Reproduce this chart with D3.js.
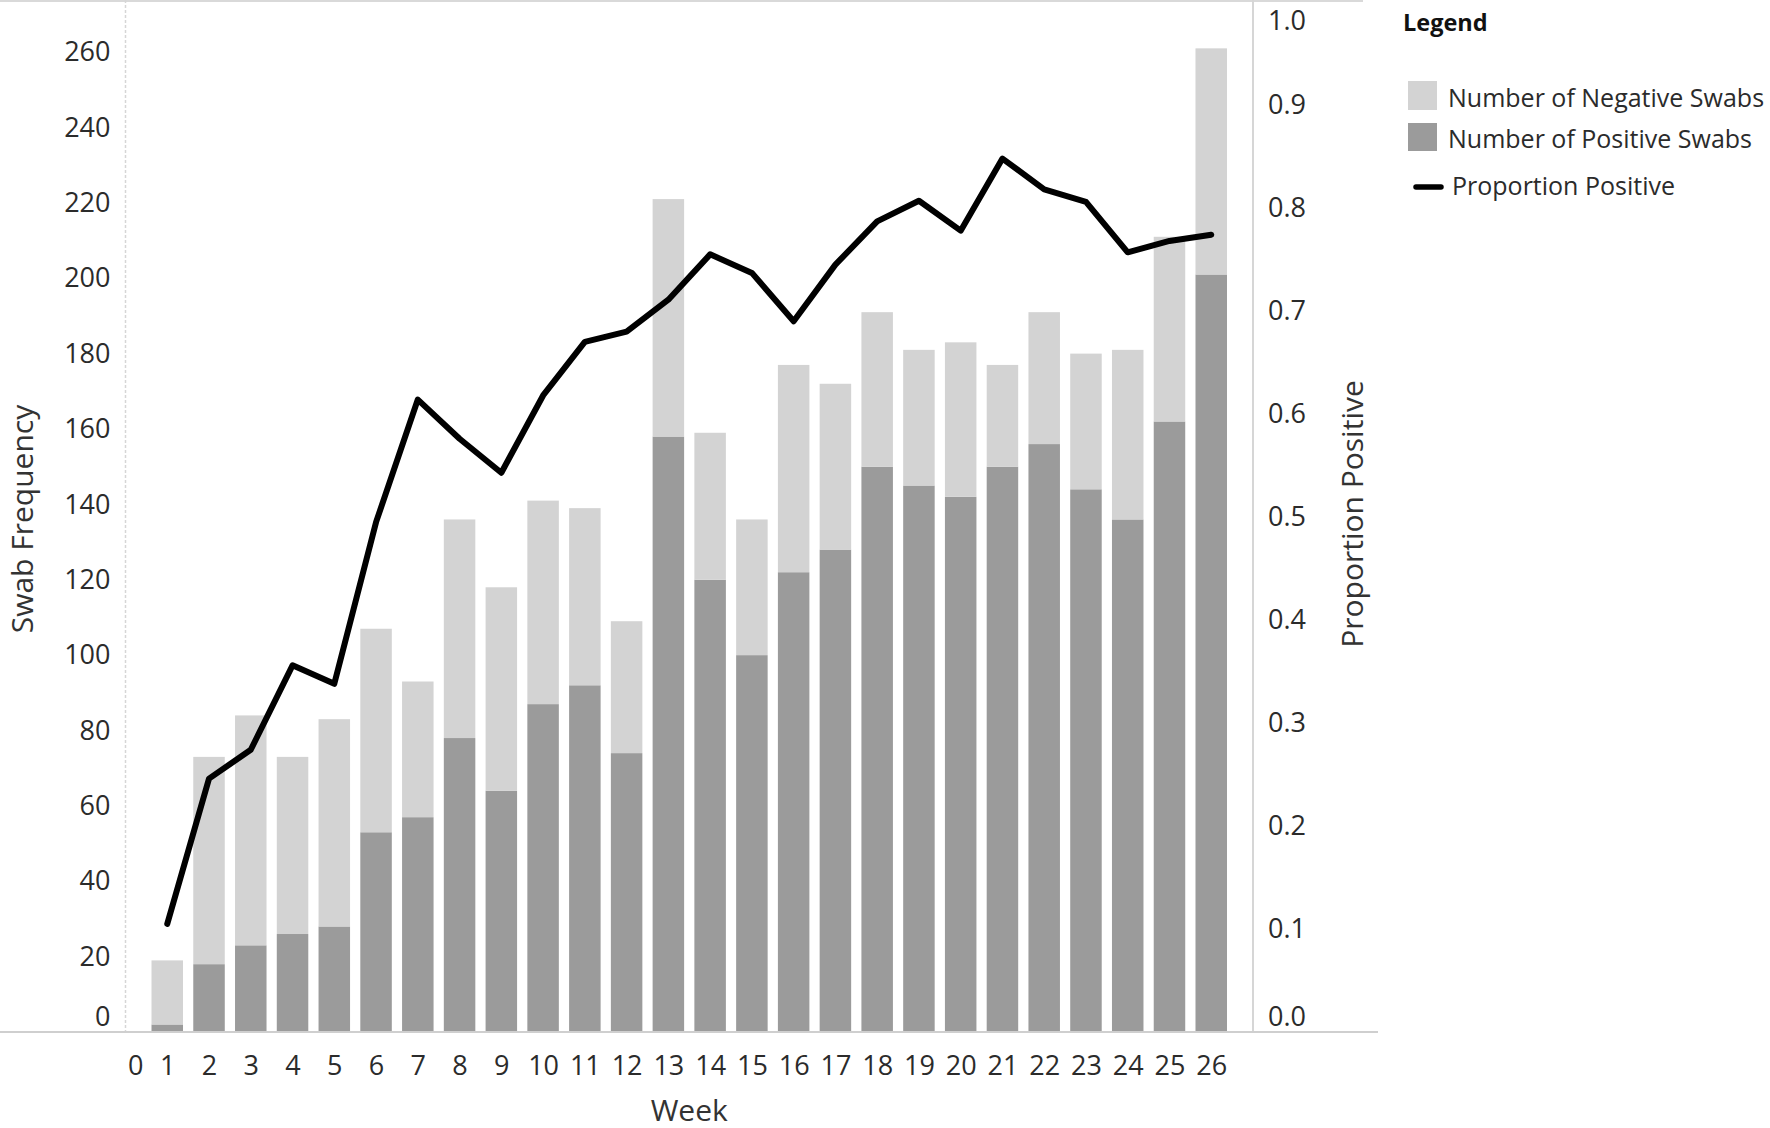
<!DOCTYPE html>
<html>
<head>
<meta charset="utf-8">
<script src="https://cdn.jsdelivr.net/npm/d3@7"></script>
<style>
  body { margin: 0; background: #fff; }
  text { font-family: "Open Sans", "Noto Sans", sans-serif; }
</style>
</head>
<body>
<svg id="chart" width="1770" height="1128"></svg>
<script>
// values
var weeks = d3.range(1, 27);
var positive = [2, 18, 23, 26, 28, 53, 57, 78, 64, 87, 92, 74, 158, 120, 100, 122, 128, 150, 145, 142, 150, 156, 144, 136, 162, 201];
var negative = [17, 55, 61, 47, 55, 54, 36, 58, 54, 54, 47, 35, 63, 39, 36, 55, 44, 41, 36, 41, 27, 35, 36, 45, 49, 60];
var proportion = [0.105, 0.246, 0.274, 0.356, 0.338, 0.495, 0.614, 0.576, 0.543, 0.618, 0.670, 0.680, 0.711, 0.755, 0.737, 0.690, 0.745, 0.787, 0.807, 0.778, 0.848, 0.818, 0.806, 0.757, 0.768, 0.774];
var leftTicks = d3.range(0, 261, 20);
var rightTicks = [0, 0.1, 0.2, 0.3, 0.4, 0.5, 0.6, 0.7, 0.8, 0.9, 1.0];
var weekTicks = d3.range(0, 27);
var legendItems = ["Number of Negative Swabs", "Number of Positive Swabs", "Proportion Positive"];

var colNeg = "#d3d3d3", colPos = "#9b9b9b";

var svg = d3.select("#chart");
var plotLeft = 125.5, plotRight = 1253, plotTop = 2, plotBottom = 1032;

var x = d3.scaleLinear().domain([0, 27]).range([plotLeft, plotRight]);
var y = d3.scaleLinear().domain([0, 273.3]).range([plotBottom, plotTop]);
var y2 = d3.scaleLinear().domain([0, 1]).range([plotBottom, plotTop]);
var barW = 31.5;

// frame lines
svg.append("line").attr("x1", 0).attr("x2", 1363).attr("y1", 1).attr("y2", 1)
  .attr("stroke", "#d9d9d9").attr("stroke-width", 2);
svg.append("line").attr("x1", plotLeft).attr("x2", plotLeft).attr("y1", 0).attr("y2", plotBottom)
  .attr("stroke", "#d6d6d6").attr("stroke-width", 1.5).attr("stroke-dasharray", "3,2");
svg.append("line").attr("x1", plotRight).attr("x2", plotRight).attr("y1", 0).attr("y2", plotBottom)
  .attr("stroke", "#d6d6d6").attr("stroke-width", 2);

// stacked bars
var bars = svg.append("g");
bars.selectAll("rect.pos").data(weeks).enter().append("rect")
  .attr("class", "pos")
  .attr("x", function(d) { return x(d) - barW / 2; })
  .attr("y", function(d, i) { return y(positive[i]); })
  .attr("width", barW)
  .attr("height", function(d, i) { return y(0) - y(positive[i]); })
  .attr("fill", colPos);
bars.selectAll("rect.neg").data(weeks).enter().append("rect")
  .attr("class", "neg")
  .attr("x", function(d) { return x(d) - barW / 2; })
  .attr("y", function(d, i) { return y(positive[i] + negative[i]); })
  .attr("width", barW)
  .attr("height", function(d, i) { return y(positive[i]) - y(positive[i] + negative[i]); })
  .attr("fill", colNeg);

// baseline
svg.append("line").attr("x1", 0).attr("x2", 1378).attr("y1", plotBottom).attr("y2", plotBottom)
  .attr("stroke", "#cfcfcf").attr("stroke-width", 2);

// proportion line
var line = d3.line()
  .x(function(d) { return x(d); })
  .y(function(d, i) { return y2(proportion[i]); });
svg.append("path").datum(weeks)
  .attr("d", line)
  .attr("fill", "none")
  .attr("stroke", "#000")
  .attr("stroke-width", 6)
  .attr("stroke-linejoin", "round")
  .attr("stroke-linecap", "round");

// axes
var axL = svg.append("g").attr("transform", "translate(" + plotLeft + ",0)")
  .call(d3.axisLeft(y).tickValues(leftTicks).tickSize(0).tickPadding(15));
var axR = svg.append("g").attr("transform", "translate(" + plotRight + ",0)")
  .call(d3.axisRight(y2).tickValues(rightTicks).tickSize(0).tickPadding(15).tickFormat(d3.format(".1f")));
var axB = svg.append("g").attr("transform", "translate(0," + plotBottom + ")")
  .call(d3.axisBottom(x).tickValues(weekTicks).tickSize(0).tickPadding(24).tickFormat(d3.format("d")));

[axL, axR, axB].forEach(function(a) {
  a.select(".domain").remove();
  a.selectAll("text").attr("font-size", 27).attr("fill", "#2b2b2b")
    .style("font-family", '"Open Sans", "Noto Sans", sans-serif');
});
// edge labels pushed inward, as in the original
axL.selectAll(".tick").filter(function(d) { return d === 0; }).select("text").attr("dy", "-0.25em");
axR.selectAll(".tick").filter(function(d) { return d === 0; }).select("text").attr("dy", "-0.25em");
axR.selectAll(".tick").filter(function(d) { return d === 1; }).select("text").attr("dy", "1.02em");
axB.selectAll(".tick").filter(function(d) { return d === 0; }).select("text").attr("dx", "0.36em");

// axis titles
svg.append("text").attr("transform", "translate(22,519) rotate(-90)")
  .attr("text-anchor", "middle").attr("dy", "0.35em")
  .attr("font-size", 30).attr("fill", "#333").text("Swab Frequency");
svg.append("text").attr("transform", "translate(1352,514) rotate(-90)")
  .attr("text-anchor", "middle").attr("dy", "0.35em")
  .attr("font-size", 30).attr("fill", "#333").text("Proportion Positive");
svg.append("text").attr("x", (plotLeft + plotRight) / 2).attr("y", 1110)
  .attr("text-anchor", "middle").attr("dy", "0.35em")
  .attr("font-size", 30).attr("fill", "#333").text("Week");

// legend
var lg = svg.append("g");
lg.append("text").attr("x", 1403).attr("y", 23).attr("dy", "0.35em")
  .attr("font-size", 23.5).attr("font-weight", "bold").attr("fill", "#111").text("Legend");
lg.append("rect").attr("x", 1408).attr("y", 81).attr("width", 29).attr("height", 29).attr("fill", colNeg);
lg.append("rect").attr("x", 1408).attr("y", 123).attr("width", 29).attr("height", 28).attr("fill", colPos);
lg.append("line").attr("x1", 1416).attr("x2", 1441).attr("y1", 187).attr("y2", 187)
  .attr("stroke", "#000").attr("stroke-width", 5.5).attr("stroke-linecap", "round");
lg.selectAll("text.item").data(legendItems).enter().append("text")
  .attr("class", "item")
  .attr("x", function(d, i) { return i < 2 ? 1448 : 1452; })
  .attr("y", function(d, i) { return [98, 139, 186][i]; })
  .attr("dy", "0.35em")
  .attr("font-size", 25).attr("fill", "#2b2b2b")
  .text(function(d) { return d; });
</script>
</body>
</html>
